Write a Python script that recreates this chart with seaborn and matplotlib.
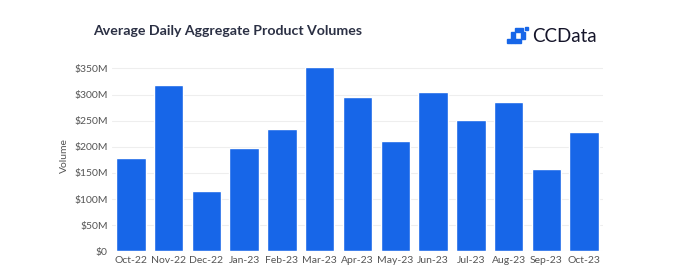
import matplotlib
matplotlib.use("Agg")
import matplotlib.pyplot as plt
import matplotlib.patches as mpatches
from matplotlib.ticker import FuncFormatter
import pandas as pd
import seaborn as sns

# Данные (млн долларов)
months = ["Oct-22", "Nov-22", "Dec-22", "Jan-23", "Feb-23", "Mar-23", "Apr-23",
          "May-23", "Jun-23", "Jul-23", "Aug-23", "Sep-23", "Oct-23"]
volumes = [178, 318, 115, 198, 234, 353, 296, 211, 305, 252, 285, 158, 228]

df = pd.DataFrame({"month": months, "volume": volumes})

sns.set_theme(style="white")
plt.rcParams["font.family"] = ["Lato", "DejaVu Sans"]

fig = plt.figure(figsize=(6.98, 2.79), dpi=100)
ax = fig.add_axes([0.1605, 0.099, 0.7034, 0.684])

sns.barplot(data=df, x="month", y="volume", color="#1766E8", saturation=1,
            width=0.78, ax=ax, zorder=3)

ax.set_ylim(0, 365)
ax.set_xlim(-0.5, len(months) - 0.5)
ax.set_yticks(range(0, 351, 50))
ax.yaxis.set_major_formatter(FuncFormatter(lambda v, p: "$0" if v == 0 else f"${int(v)}M"))
ax.grid(axis="y", color="#eeeeee", linewidth=0.8, zorder=0)
ax.set_axisbelow(True)
for s in ax.spines.values():
    s.set_visible(False)
ax.tick_params(axis="both", length=0, labelsize=7.5, labelcolor="#555555", pad=3)
ax.set_xlabel("")
ax.set_ylabel("Volume", fontsize=7.5, color="#555555", labelpad=4)

# Заголовок
fig.text(93 / 698, 1 - 31 / 279, "Average Daily Aggregate Product Volumes",
         fontsize=10.2, fontweight="bold", color="#2b3044", va="center", ha="left")

# Логотип
fig.text(532 / 698, 1 - 37 / 279, "CCData", fontsize=13.5, color="#15152a",
         va="center", ha="left")
icon = [(507, 39, 4, 4), (511, 32, 4, 11), (515, 39, 6, 4),
        (515, 28, 8, 4), (521, 32, 4, 7), (525, 27, 3, 3)]
for x, y, w, h in icon:
    fig.patches.append(mpatches.Rectangle((x / 698, 1 - (y + h) / 279), w / 698, h / 279,
                                          transform=fig.transFigure, color="#1766E8"))

fig.savefig("out.png", dpi=100)
